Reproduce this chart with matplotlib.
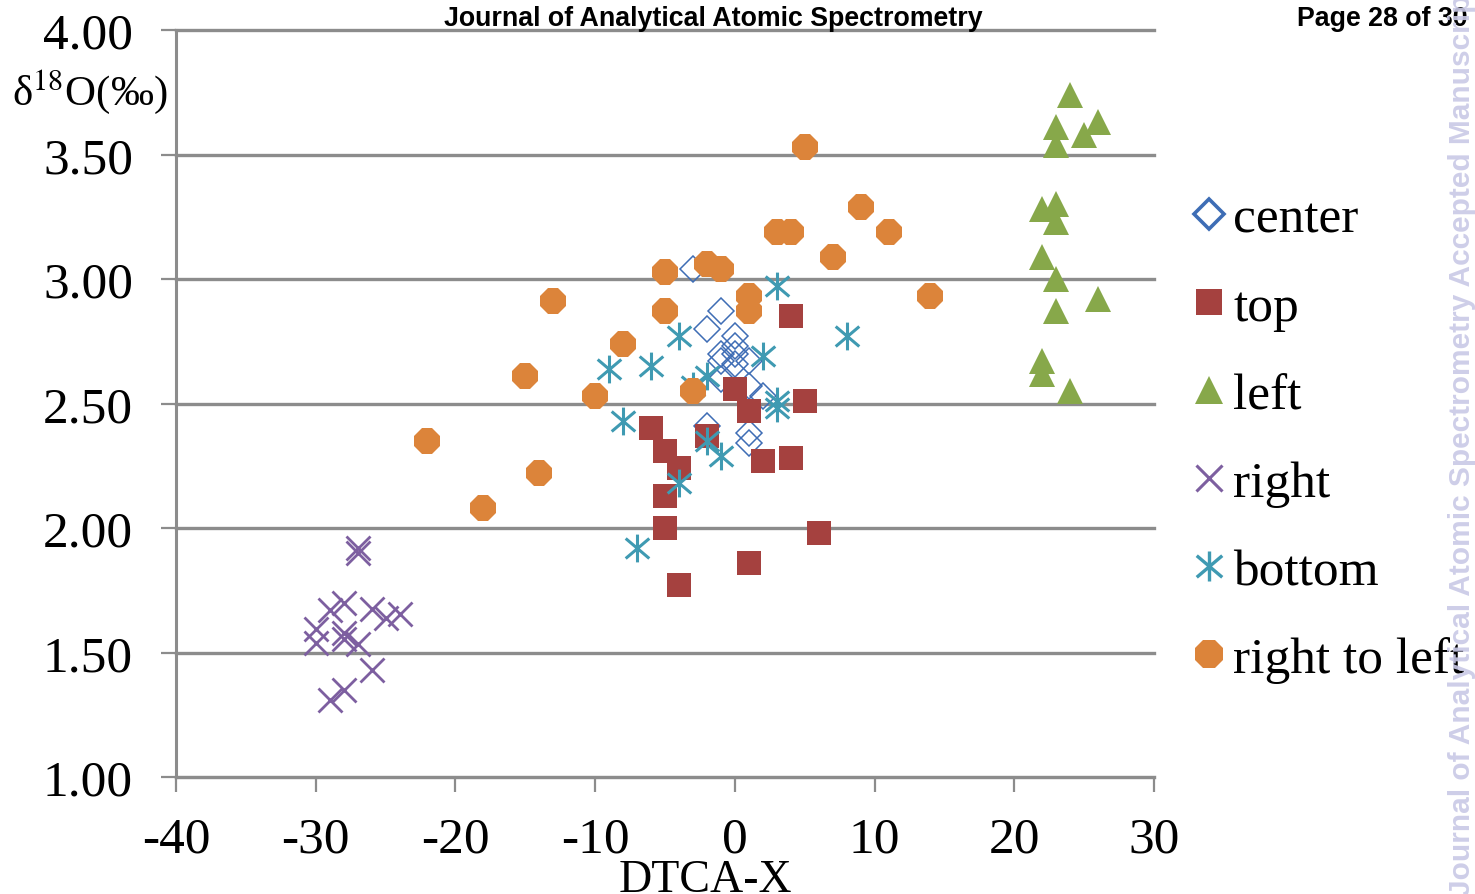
import matplotlib
matplotlib.use("Agg")
import matplotlib.pyplot as plt
from matplotlib.path import Path
from matplotlib.lines import Line2D

# ---- data -------------------------------------------------------------
center_x = [-3, -1, -2, 0, 0, -1, 0, 1, -1, 0, 1, -1, 2, -2, 1, 1]
center_y = [3.04, 2.87, 2.80, 2.77, 2.73, 2.70, 2.70, 2.67, 2.67, 2.66,
            2.57, 2.60, 2.53, 2.41, 2.38, 2.34]

top_x = [0, 4, 5, 1, -6, -5, -4, -2, 2, 4, -5, -5, 6, 1, -4]
top_y = [2.56, 2.85, 2.51, 2.47, 2.40, 2.31, 2.24, 2.37, 2.27, 2.28,
         2.13, 2.00, 1.98, 1.86, 1.77]

left_x = [24, 23, 26, 25, 23, 22, 23, 23, 22, 23, 26, 23, 22, 22, 24]
left_y = [3.74, 3.61, 3.63, 3.58, 3.54, 3.28, 3.30, 3.23, 3.09, 3.00,
          2.92, 2.87, 2.67, 2.62, 2.55]

right_x = [-27, -27, -28, -29, -26, -25, -24, -30, -30, -28, -28, -27,
           -26, -28, -29]
right_y = [1.92, 1.90, 1.70, 1.67, 1.675, 1.64, 1.655, 1.595, 1.54, 1.58,
           1.555, 1.535, 1.43, 1.35, 1.31]

bottom_x = [3, 8, -4, -9, -6, 2, -2, -3, -8, 3, 3, -2, -1, -4, -7]
bottom_y = [2.97, 2.77, 2.77, 2.64, 2.65, 2.69, 2.61, 2.57, 2.43, 2.51,
            2.48, 2.35, 2.29, 2.18, 1.92]

rtl_x = [5, 9, 11, 3, 4, 7, -2, -1, -5, 14, 1, 1, -5, -13, -8, -15, -10,
         -3, -22, -14, -18]
rtl_y = [3.53, 3.29, 3.19, 3.19, 3.19, 3.09, 3.06, 3.04, 3.03, 2.93, 2.93,
         2.87, 2.87, 2.91, 2.74, 2.61, 2.53, 2.55, 2.35, 2.22, 2.08]

x_ticks = [-40, -30, -20, -10, 0, 10, 20, 30]
y_ticks = [1.00, 1.50, 2.00, 2.50, 3.00, 3.50, 4.00]

# ---- styling ----------------------------------------------------------
SERIF = "Liberation Serif"
GRID = "#8C8C8C"

# six-armed asterisk: one vertical stroke plus two diagonals
ast_path = Path(
    [(0, -1), (0, 1), (-0.85, -0.72), (0.85, 0.72), (-0.85, 0.72), (0.85, -0.72)],
    [Path.MOVETO, Path.LINETO, Path.MOVETO, Path.LINETO, Path.MOVETO, Path.LINETO],
)

series = [
    ("center", center_x, center_y,
     dict(marker="D", ms=13.5, mfc="none", mec="#3E6DB5", mew=1.1)),
    ("top", top_x, top_y,
     dict(marker="s", ms=17.5, mfc="#A5413F", mec="#A5413F", mew=0)),
    ("left", left_x, left_y,
     dict(marker="^", ms=19, mfc="#87A84A", mec="#87A84A", mew=0)),
    ("right", right_x, right_y,
     dict(marker="x", ms=17, mfc="none", mec="#7D5FA0", mew=2.0)),
    ("bottom", bottom_x, bottom_y,
     dict(marker=ast_path, ms=20, mfc="none", mec="#3F9AB2", mew=2.2)),
    ("right to left", rtl_x, rtl_y,
     dict(marker="8", ms=19.5, mfc="#DC843A", mec="#DC843A", mew=0)),
]

fig = plt.figure(figsize=(14.75, 8.95), dpi=100)
fig.patch.set_facecolor("white")
ax = fig.add_axes([176 / 1475, 1 - 778 / 895, 978 / 1475, 747 / 895])

for i, (name, xs, ys, st) in enumerate(series):
    ax.plot(xs, ys, ls="none", zorder=3 + i, clip_on=False, **st)

ax.set_xlim(-40, 30)
ax.set_ylim(1, 4)
ax.set_xticks(x_ticks)
ax.set_xticklabels([str(v) for v in x_ticks])
ax.set_yticks(y_ticks)
ax.set_yticklabels(["%.2f" % v for v in y_ticks])

for v in y_ticks:
    ax.axhline(v, color=GRID, lw=2.4, zorder=1, clip_on=False)

for s in ("top", "right"):
    ax.spines[s].set_visible(False)
for s in ("left", "bottom"):
    ax.spines[s].set_color(GRID)
    ax.spines[s].set_linewidth(2.2)

ax.tick_params(axis="both", direction="out", length=11, width=1.6, color=GRID,
               labelsize=37)
ax.tick_params(axis="x", pad=17)
ax.tick_params(axis="y", pad=20)
for lab in ax.get_xticklabels() + ax.get_yticklabels():
    lab.set_fontfamily(SERIF)

plt.rcParams["mathtext.fontset"] = "stix"
fig.text(12 / 1475, 1 - 92 / 895, "δ$^{18}$O(‰)", family=SERIF, fontsize=31,
         ha="left", va="center")
fig.text(705 / 1475, 1 - 881 / 895, "DTCA-X", family=SERIF, fontsize=33,
         ha="center", va="center")

# legend built from proxies so the keys match the plotted symbols
handles = []
for name, xs, ys, st in series:
    st2 = dict(st)
    st2["ms"] = st["ms"] * 1.08
    if name == "center":
        st2["mew"] = 2.6
        st2["ms"] = st["ms"] * 1.1
    if name in ("right", "bottom"):
        st2["mew"] = st["mew"] * 1.1
    handles.append(Line2D([], [], ls="none", **st2))
leg = fig.legend(handles, [s[0] for s in series], loc="upper left",
                 bbox_to_anchor=(1194 / 1475, 1 - 197 / 895),
                 frameon=False, prop={"family": SERIF, "size": 37},
                 handlelength=0.6, handletextpad=0.16, labelspacing=0.80,
                 borderaxespad=0, borderpad=0)

# page header
fig.text(713 / 1475, 1 - 19 / 895, "Journal of Analytical Atomic Spectrometry",
         family="Liberation Sans", weight="bold", fontsize=19.3,
         ha="center", va="center")
fig.text(1297 / 1475, 1 - 19 / 895, "Page 28 of 30",
         family="Liberation Sans", weight="bold", fontsize=19.3,
         ha="left", va="center")

# vertical watermark along the right margin
fig.text(1462 / 1475, 1 - 440 / 895,
         "Journal of Analytical Atomic Spectrometry Accepted Manuscript",
         family="Liberation Sans", weight="bold", fontsize=21.5, rotation=90,
         color="#C9C9E6", alpha=0.9, ha="center", va="center", zorder=20)

fig.savefig("out.png", dpi=100)
